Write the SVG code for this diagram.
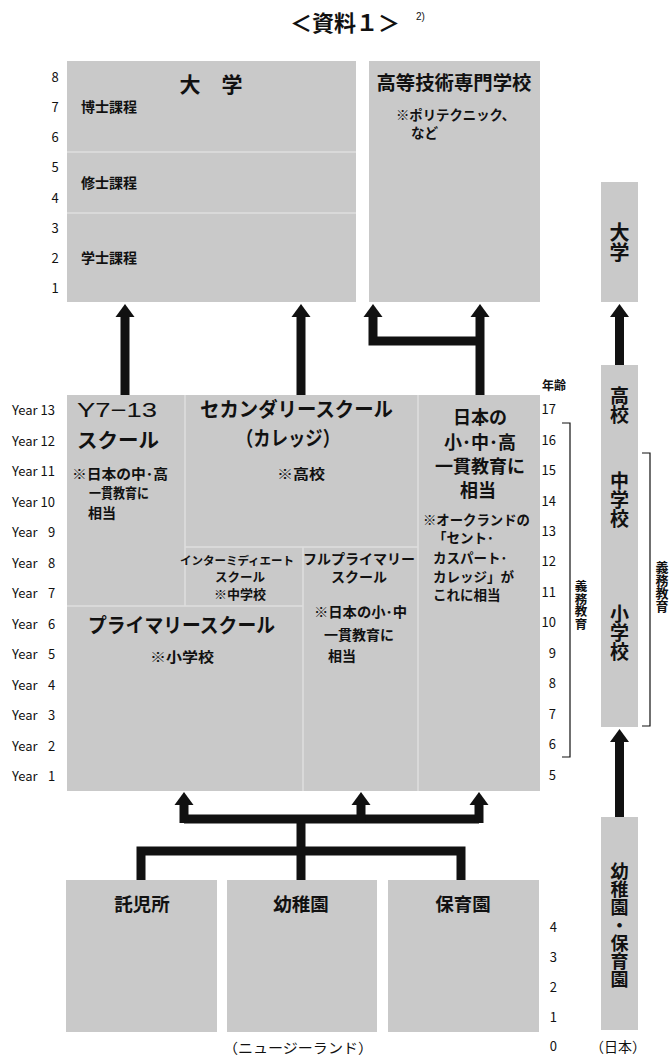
<svg xmlns="http://www.w3.org/2000/svg" width="670" height="1060" viewBox="0 0 670 1060">
<style>
text{font-family:"Noto Sans CJK JP","Liberation Sans",sans-serif;fill:#111}
.lat{font-family:"Liberation Sans","Noto Sans CJK JP",sans-serif}
.box{fill:#c9c9c9}
.div{stroke:#dedede;stroke-width:1.5;fill:none}
.h{font-weight:bold;font-size:20px}
.s{font-weight:bold;font-size:14px}
.n{font-size:13px}
.yr{font-size:13px}
.vt{font-weight:bold;writing-mode:vertical-rl;text-orientation:upright}
.c{text-anchor:middle}
.con{stroke:#111;stroke-width:9;fill:none;stroke-linejoin:miter;stroke-linecap:butt}
.br{stroke:#111;stroke-width:1.2;fill:none}
</style>
<defs>
<marker id="ah" markerUnits="userSpaceOnUse" markerWidth="20" markerHeight="20" refX="0" refY="0" viewBox="0 -10 13 20" orient="auto" overflow="visible">
<path d="M-1,-9.5 L12,0 L-1,9.5 z" fill="#111"/>
</marker>
</defs>

<g id="title">
<text x="345" y="31" class="c" style="font-size:22px;font-weight:bold">＜資料１＞</text>
<text x="416" y="20" class="lat" style="font-size:10px">2)</text>
</g>

<g id="univ-ages" class="lat n">
<text x="55" y="82" class="c">8</text>
<text x="55" y="112" class="c">7</text>
<text x="55" y="142" class="c">6</text>
<text x="55" y="172" class="c">5</text>
<text x="55" y="203" class="c">4</text>
<text x="55" y="233" class="c">3</text>
<text x="55" y="263" class="c">2</text>
<text x="55" y="293" class="c">1</text>
</g>

<g id="university">
<rect class="box" x="67" y="61" width="289" height="241"/>
<path class="div" d="M67,152 H356 M67,213 H356"/>
<text x="211" y="92" class="c" style="font-size:21px;font-weight:bold">大　学</text>
<text x="81" y="112" class="s">博士課程</text>
<text x="81" y="188" class="s">修士課程</text>
<text x="81" y="263" class="s">学士課程</text>
</g>

<g id="polytechnic">
<rect class="box" x="369" y="61" width="171" height="241"/>
<text x="454" y="90" class="c" style="font-size:19px;font-weight:bold" textLength="155" lengthAdjust="spacingAndGlyphs">高等技術専門学校</text>
<text x="396" y="120" class="s" style="font-size:13.5px" textLength="119" lengthAdjust="spacingAndGlyphs">※ポリテクニック、</text>
<text x="411" y="138" class="s" style="font-size:13.5px">など</text>
</g>

<g id="jp-university">
<rect class="box" x="601" y="182" width="37" height="120"/>
<text class="vt" x="619.5" y="222" style="font-size:20px">大学</text>
</g>

<g id="year-labels" class="lat yr">
<text x="12" y="415">Year 13</text>
<text x="12" y="446">Year 12</text>
<text x="12" y="476">Year 11</text>
<text x="12" y="507">Year 10</text>
<text x="12" y="537">Year <tspan x="48">9</tspan></text>
<text x="12" y="568">Year <tspan x="48">8</tspan></text>
<text x="12" y="598">Year <tspan x="48">7</tspan></text>
<text x="12" y="629">Year <tspan x="48">6</tspan></text>
<text x="12" y="659">Year <tspan x="48">5</tspan></text>
<text x="12" y="690">Year <tspan x="48">4</tspan></text>
<text x="12" y="720">Year <tspan x="48">3</tspan></text>
<text x="12" y="751">Year <tspan x="48">2</tspan></text>
<text x="12" y="781">Year <tspan x="48">1</tspan></text>
</g>

<g id="nz-ages" class="lat n" text-anchor="end">
<text x="566" y="390" style="font-family:'Noto Sans CJK JP',sans-serif;font-size:12px;font-weight:bold">年齢</text>
<text x="556" y="414">17</text>
<text x="556" y="445">16</text>
<text x="556" y="475">15</text>
<text x="556" y="506">14</text>
<text x="556" y="536">13</text>
<text x="556" y="566">12</text>
<text x="556" y="597">11</text>
<text x="556" y="627">10</text>
<text x="556" y="658">9</text>
<text x="556" y="688">8</text>
<text x="556" y="719">7</text>
<text x="556" y="749">6</text>
<text x="556" y="780">5</text>
<text x="557" y="932">4</text>
<text x="557" y="962">3</text>
<text x="557" y="992">2</text>
<text x="557" y="1022">1</text>
<text x="557" y="1051">0</text>
</g>

<g id="nz-school">
<rect class="box" x="67" y="395" width="473" height="396"/>
<path class="div" d="M185,395 V606 M67,606 H303 M185,547 H418 M303,547 V791 M418,395 V791"/>
</g>

<g id="y7-13">
<text x="77" y="417" class="lat" style="font-size:21px" textLength="80" lengthAdjust="spacingAndGlyphs">Y7−13</text>
<text x="77" y="448" class="h" textLength="82" lengthAdjust="spacingAndGlyphs">スクール</text>
<text x="72" y="479" class="s" textLength="96" lengthAdjust="spacingAndGlyphs">※日本の中･高</text>
<text x="89" y="498" class="s" textLength="60" lengthAdjust="spacingAndGlyphs">一貫教育に</text>
<text x="88" y="518" class="s">相当</text>
</g>

<g id="secondary">
<text x="200" y="417" class="h" textLength="193" lengthAdjust="spacingAndGlyphs">セカンダリースクール</text>
<text x="236" y="446" class="h" textLength="104" lengthAdjust="spacingAndGlyphs">（カレッジ）</text>
<text x="277" y="479" class="s" textLength="48" lengthAdjust="spacingAndGlyphs">※高校</text>
</g>

<g id="jp-integrated">
<text x="480" y="424" class="h c" style="font-size:18px">日本の</text>
<text x="480" y="449" class="h c" style="font-size:18px">小･中･高</text>
<text x="480" y="473" class="h c" style="font-size:18px">一貫教育に</text>
<text x="478" y="497" class="h c" style="font-size:18px">相当</text>
<text x="423" y="525" class="s" style="font-size:13.5px" textLength="107" lengthAdjust="spacingAndGlyphs">※オークランドの</text>
<text x="433" y="543" class="s" style="font-size:13.5px">「セント･</text>
<text x="433" y="563" class="s" style="font-size:13.5px">カスパート･</text>
<text x="433" y="582" class="s" style="font-size:13.5px">カレッジ」が</text>
<text x="433" y="600" class="s" style="font-size:13.5px">これに相当</text>
</g>

<g id="intermediate">
<text x="237" y="565" class="s c" style="font-size:11.5px">インターミディエート</text>
<text x="240" y="582" class="s c" style="font-size:12.5px">スクール</text>
<text x="240" y="599" class="s c" style="font-size:13px">※中学校</text>
</g>

<g id="full-primary">
<text x="359" y="564" class="s c">フルプライマリー</text>
<text x="359" y="582" class="s c">スクール</text>
<text x="314" y="617" class="s" textLength="93" lengthAdjust="spacingAndGlyphs">※日本の小･中</text>
<text x="324" y="640" class="s">一貫教育に</text>
<text x="328" y="661" class="s">相当</text>
</g>

<g id="primary">
<text x="88" y="633" class="h" textLength="187" lengthAdjust="spacingAndGlyphs">プライマリースクール</text>
<text x="150" y="662" class="s" textLength="64" lengthAdjust="spacingAndGlyphs">※小学校</text>
</g>

<g id="nz-compulsory">
<path class="br" d="M562,423 H570 V757 H562"/>
<text class="vt" x="581" y="580" style="font-size:12.5px">義務教育</text>
</g>

<g id="jp-school">
<rect class="box" x="601" y="365" width="37" height="362"/>
<text class="vt" x="619.5" y="386" style="font-size:19px">高校</text>
<text class="vt" x="619.5" y="471" style="font-size:19px">中学校</text>
<text class="vt" x="619.5" y="604" style="font-size:19px">小学校</text>
</g>

<g id="jp-compulsory">
<path class="br" d="M642,453 H650 V726 H642"/>
<text class="vt" x="662" y="561" style="font-size:13px">義務教育</text>
</g>

<g id="daycare">
<rect class="box" x="66" y="880" width="151" height="152"/>
<text x="142" y="911" class="c" style="font-size:18.5px;font-weight:bold">託児所</text>
</g>
<g id="kindergarten">
<rect class="box" x="227" y="880" width="150" height="152"/>
<text x="301" y="911" class="c" style="font-size:18.5px;font-weight:bold">幼稚園</text>
</g>
<g id="nursery">
<rect class="box" x="388" y="880" width="151" height="152"/>
<text x="463" y="911" class="c" style="font-size:18.5px;font-weight:bold">保育園</text>
</g>

<g id="jp-preschool">
<rect class="box" x="601" y="817" width="37" height="213"/>
<text class="vt" x="619.5" y="862" style="font-size:18px">幼稚園・保育園</text>
</g>

<g id="captions">
<text x="223" y="1053" class="s" style="font-weight:normal" textLength="150" lengthAdjust="spacingAndGlyphs">（ニュージーランド）</text>
<text x="590" y="1052" class="s" style="font-weight:normal">（日本）</text>
</g>

<g id="connectors">
<path class="con" d="M125,395 V316" marker-end="url(#ah)"/>
<path class="con" d="M301,395 V316" marker-end="url(#ah)"/>
<path class="con" d="M480,395 V316" marker-end="url(#ah)"/>
<path class="con" d="M480,341 H373 V316" marker-end="url(#ah)"/>
<path class="con" d="M619.5,365 V316" marker-end="url(#ah)"/>
<path class="con" d="M619.5,817 V741" marker-end="url(#ah)"/>
<path class="con" d="M301,880 V819"/>
<path class="con" d="M184,819 H479"/>
<path class="con" d="M184,823 V804" marker-end="url(#ah)"/>
<path class="con" d="M361,823 V804" marker-end="url(#ah)"/>
<path class="con" d="M479,823 V804" marker-end="url(#ah)"/>
<path class="con" d="M141,880 V851 H461 V880"/>
</g>
</svg>
